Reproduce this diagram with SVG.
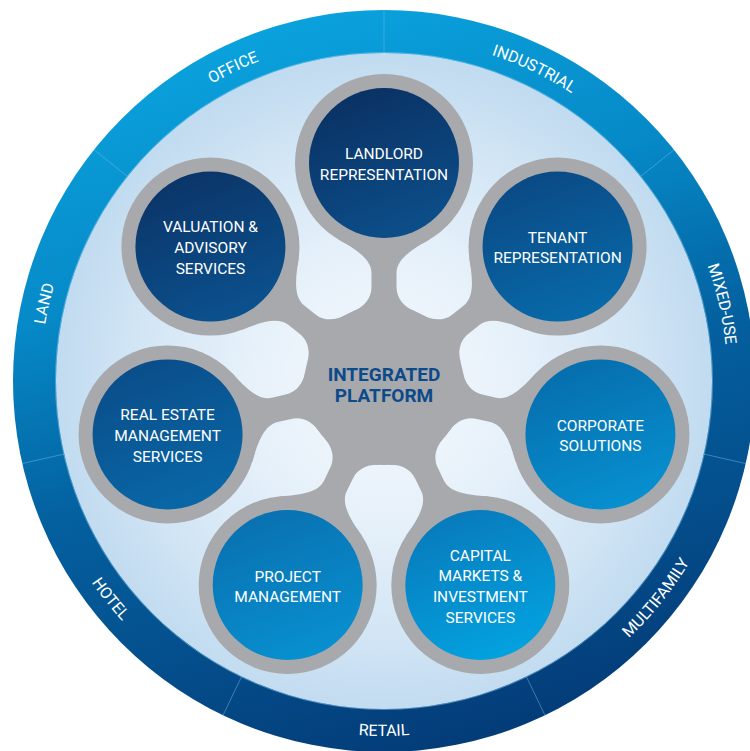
<svg xmlns="http://www.w3.org/2000/svg" width="750" height="751" viewBox="0 0 750 751">
<defs>
<style>
.nt{font-family:Roboto,"Liberation Sans",sans-serif;font-size:15.5px;fill:#ffffff;text-anchor:middle}
.rl{font-family:Roboto,"Liberation Sans",sans-serif;font-size:16px;fill:#ffffff;text-anchor:middle}
.hubt{font-family:Roboto,"Liberation Sans",sans-serif;font-size:19px;font-weight:bold;fill:#0d4a8a;text-anchor:middle}
.grey{fill:#a7a9ac}
.div{stroke:#6fc0ea;stroke-width:0.8;stroke-opacity:0.6}
</style>
<linearGradient id="ringGrad" x1="0.35" y1="0" x2="0.65" y2="1">
<stop offset="0" stop-color="#0aa3de"/>
<stop offset="0.3" stop-color="#0689c7"/>
<stop offset="0.55" stop-color="#04609f"/>
<stop offset="0.75" stop-color="#04508e"/>
<stop offset="1" stop-color="#033a76"/>
</linearGradient>
<radialGradient id="bgGrad" gradientUnits="userSpaceOnUse" cx="384" cy="385" r="328">
<stop offset="0" stop-color="#f5f9fd"/>
<stop offset="0.4" stop-color="#e7f1fa"/>
<stop offset="0.75" stop-color="#d3e6f5"/>
<stop offset="1" stop-color="#c1dbf0"/>
</radialGradient>
<linearGradient id="gLand" x1="0.3" y1="0" x2="0.7" y2="1"><stop offset="0" stop-color="#0a3163"/><stop offset="1" stop-color="#0c4f8b"/></linearGradient>
<linearGradient id="gVal" x1="0.3" y1="0" x2="0.7" y2="1"><stop offset="0" stop-color="#0b3467"/><stop offset="1" stop-color="#0b5290"/></linearGradient>
<linearGradient id="gTen" x1="0.3" y1="0" x2="0.7" y2="1"><stop offset="0" stop-color="#0a4984"/><stop offset="1" stop-color="#086bab"/></linearGradient>
<linearGradient id="gRem" x1="0.3" y1="0" x2="0.7" y2="1"><stop offset="0" stop-color="#0a4d89"/><stop offset="1" stop-color="#0968a8"/></linearGradient>
<linearGradient id="gCorp" x1="0.3" y1="0" x2="0.7" y2="1"><stop offset="0" stop-color="#066dac"/><stop offset="1" stop-color="#0791d1"/></linearGradient>
<linearGradient id="gCap" x1="0.3" y1="0" x2="0.7" y2="1"><stop offset="0" stop-color="#087abb"/><stop offset="1" stop-color="#03a3e1"/></linearGradient>
<linearGradient id="gProj" x1="0.3" y1="0" x2="0.7" y2="1"><stop offset="0" stop-color="#0970b0"/><stop offset="1" stop-color="#0891d1"/></linearGradient>
<path id="cwPath" d="M 384 724.5 A 343.5 343.5 0 1 1 384 37.5 A 343.5 343.5 0 1 1 384 724.5" fill="none"/>
<path id="ccwPath" d="M 384 26 A 355 355 0 1 0 384 736 A 355 355 0 1 0 384 26" fill="none"/>
<path id="arm" d="M 0 0 L 74.17 29.97 C 77.92 20.7 86 12.5 98 12.5 L 112 12.5 C 128 12.5 138.5 33.84 145.71 45.84 L 222 0 L 145.71 -45.84 C 138.5 -33.84 128 -12.5 112 -12.5 L 98 -12.5 C 86 -12.5 77.92 -20.7 74.17 -29.97 Z"/>
</defs>

<g id="sector-ring">
<circle cx="384" cy="381" r="371" fill="url(#ringGrad)"/>
<circle cx="384" cy="381" r="328" fill="url(#bgGrad)"/>
<circle cx="384" cy="381" r="328.5" fill="none" stroke="#8ccbee" stroke-width="1" stroke-opacity="0.5"/>
<line class="div" x1="384" y1="53" x2="384" y2="10"/>
<line class="div" x1="640.44" y1="176.5" x2="674.06" y2="149.69"/>
<line class="div" x1="703.78" y1="453.99" x2="745.7" y2="463.55"/>
<line class="div" x1="526.31" y1="676.52" x2="544.97" y2="715.26"/>
<line class="div" x1="241.69" y1="676.52" x2="223.03" y2="715.26"/>
<line class="div" x1="64.22" y1="453.99" x2="22.3" y2="463.55"/>
<line class="div" x1="127.56" y1="176.5" x2="93.94" y2="149.69"/>
<text class="rl"><textPath href="#cwPath" startOffset="28.57%">LAND</textPath></text>
<text class="rl"><textPath href="#cwPath" startOffset="42.86%">OFFICE</textPath></text>
<text class="rl"><textPath href="#cwPath" startOffset="57.14%">INDUSTRIAL</textPath></text>
<text class="rl"><textPath href="#cwPath" startOffset="71.43%">MIXED-USE</textPath></text>
<text class="rl"><textPath href="#ccwPath" startOffset="35.71%">HOTEL</textPath></text>
<text class="rl"><textPath href="#ccwPath" startOffset="50%">RETAIL</textPath></text>
<text class="rl"><textPath href="#ccwPath" startOffset="64.29%">MULTIFAMILY</textPath></text>
</g>

<g id="connectors" class="grey">
<use href="#arm" transform="translate(384 385) rotate(-90)"/>
<use href="#arm" transform="translate(384 385) rotate(-38.571)"/>
<use href="#arm" transform="translate(384 385) rotate(12.857)"/>
<use href="#arm" transform="translate(384 385) rotate(64.286)"/>
<use href="#arm" transform="translate(384 385) rotate(115.714)"/>
<use href="#arm" transform="translate(384 385) rotate(167.143)"/>
<use href="#arm" transform="translate(384 385) rotate(218.571)"/>
</g>

<g id="hub">
<circle class="grey" cx="384" cy="385" r="80"/>
<text class="hubt" x="384" y="380.5">INTEGRATED</text>
<text class="hubt" x="384" y="401.5">PLATFORM</text>
</g>

<g id="landlord">
<circle class="grey" cx="384" cy="163" r="89"/>
<circle cx="384" cy="163" r="75" fill="url(#gLand)"/>
<text class="nt" x="384" y="159">LANDLORD</text>
<text class="nt" x="384" y="179.7">REPRESENTATION</text>
</g>

<g id="tenant">
<circle class="grey" cx="557.57" cy="246.59" r="89"/>
<circle cx="557.57" cy="246.59" r="75" fill="url(#gTen)"/>
<text class="nt" x="557.57" y="242.7">TENANT</text>
<text class="nt" x="557.57" y="263.4">REPRESENTATION</text>
</g>

<g id="corporate">
<circle class="grey" cx="600.43" cy="434.4" r="89"/>
<circle cx="600.43" cy="434.4" r="75" fill="url(#gCorp)"/>
<text class="nt" x="600.43" y="430.5">CORPORATE</text>
<text class="nt" x="600.43" y="451.2">SOLUTIONS</text>
</g>

<g id="capital">
<circle class="grey" cx="480.32" cy="585.02" r="89"/>
<circle cx="480.32" cy="585.02" r="75" fill="url(#gCap)"/>
<text class="nt" x="480.32" y="560.5">CAPITAL</text>
<text class="nt" x="480.32" y="581.2">MARKETS &amp;</text>
<text class="nt" x="480.32" y="601.9">INVESTMENT</text>
<text class="nt" x="480.32" y="622.6">SERVICES</text>
</g>

<g id="project">
<circle class="grey" cx="287.68" cy="585.02" r="89"/>
<circle cx="287.68" cy="585.02" r="75" fill="url(#gProj)"/>
<text class="nt" x="287.68" y="581.5">PROJECT</text>
<text class="nt" x="287.68" y="602.2">MANAGEMENT</text>
</g>

<g id="real-estate">
<circle class="grey" cx="167.57" cy="434.4" r="89"/>
<circle cx="167.57" cy="434.4" r="75" fill="url(#gRem)"/>
<text class="nt" x="167.57" y="420.2">REAL ESTATE</text>
<text class="nt" x="167.57" y="440.9">MANAGEMENT</text>
<text class="nt" x="167.57" y="461.6">SERVICES</text>
</g>

<g id="valuation">
<circle class="grey" cx="210.43" cy="246.59" r="89"/>
<circle cx="210.43" cy="246.59" r="75" fill="url(#gVal)"/>
<text class="nt" x="210.43" y="232.4">VALUATION &amp;</text>
<text class="nt" x="210.43" y="253.1">ADVISORY</text>
<text class="nt" x="210.43" y="273.8">SERVICES</text>
</g>
</svg>
